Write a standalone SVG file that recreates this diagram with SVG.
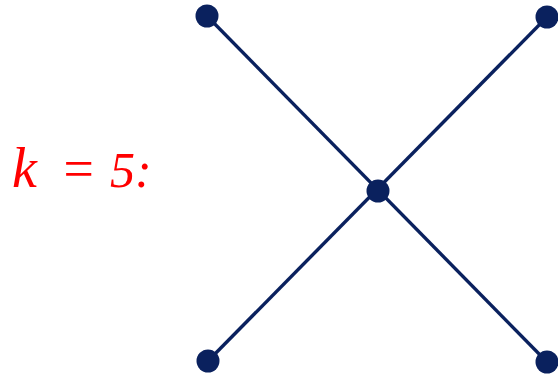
<svg xmlns="http://www.w3.org/2000/svg" width="558" height="374" viewBox="0 0 558 374">
<style>
.edge{stroke:#0a215e;stroke-width:3.4;fill:none}
.node{fill:#0a215e}
.lbl{fill:#ff0000;font-family:"Liberation Serif",serif;font-style:italic;font-size:50px}
</style>
<rect width="558" height="374" fill="#ffffff"/>
<g id="connectors">
<line class="edge" x1="207" y1="16" x2="547" y2="362"/>
<line class="edge" x1="547" y1="17" x2="208" y2="361"/>
</g>
<g id="n1"><circle class="node" cx="207" cy="16" r="11.5"/></g>
<g id="n2"><circle class="node" cx="547" cy="17" r="11.5"/></g>
<g id="n3"><circle class="node" cx="378" cy="191" r="11.5"/></g>
<g id="n4"><circle class="node" cx="208" cy="361" r="11.5"/></g>
<g id="n5"><circle class="node" cx="547" cy="362" r="11.5"/></g>
<g id="label">
<text class="lbl" y="187"><tspan x="12" font-size="56">k</tspan><tspan x="60" font-size="54">=</tspan><tspan x="110">5:</tspan></text>
</g>
</svg>
